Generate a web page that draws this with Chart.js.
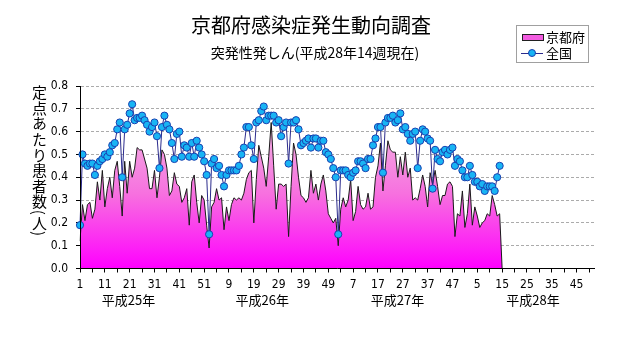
<!DOCTYPE html>
<html>
<head>
<meta charset="utf-8">
<script src="https://cdn.jsdelivr.net/npm/chart.js@4.4.1/dist/chart.umd.min.js"></script>
<style>
  html, body { margin: 0; padding: 0; background: #fff; }
  #wrap { position: relative; width: 631px; height: 347px; font-family: "Noto Sans CJK JP", sans-serif; color: #000; }
  #chart { position: absolute; left: 0; top: 0; }
  .title { position: absolute; left: 0; width: 622px; top: 14px; text-align: center; font-size: 20px; line-height: 22px; }
  .subtitle { position: absolute; left: 0; width: 630px; top: 44px; text-align: center; font-size: 14px; line-height: 16px; }
  .ylabel { position: absolute; left: 31px; top: 85px; writing-mode: vertical-rl; font-size: 15px; line-height: 16px; letter-spacing: 0.6px; }
  .legend { position: absolute; left: 516px; top: 25px; width: 71px; height: 36px; border: 1px solid #a0a0a0; font-size: 13px; }
  .legend .row { position: absolute; left: 4px; height: 16px; line-height: 16px; }
  .legend .box { position: absolute; left: 1px; top: 5px; width: 20px; height: 5px; border: 1px solid #202020; background: #f25ce0; }
  .legend .ln { position: absolute; left: 0; top: 8px; width: 22px; height: 1px; background: #2b2b8c; }
  .legend .dot { position: absolute; left: 7px; top: 4px; width: 6px; height: 6px; border-radius: 50%; border: 1px solid #1840b0; background: #18b4f4; }
  .legend .txt { position: absolute; left: 25px; top: 0; white-space: nowrap; }
</style>
</head>
<body>
<div id="wrap">
  <canvas id="chart" width="631" height="347"></canvas>
  <div class="title">京都府感染症発生動向調査</div>
  <div class="subtitle">突発性発しん(平成28年14週現在)</div>
  <div class="ylabel">定点あたり患者数(人)</div>
  <div class="legend">
    <div class="row" style="top:3px"><span class="box"></span><span class="txt">京都府</span></div>
    <div class="row" style="top:19px"><span class="ln"></span><span class="dot"></span><span class="txt">全国</span></div>
  </div>
</div>
<script>
// week categories: 4 years x 52 weeks (H25 - H28)
const weeksPerYear = 52;
const yearNames = ['平成25年', '平成26年', '平成27年', '平成28年'];
const weekLabels = [];
for (let y = 0; y < yearNames.length; y++) {
    for (let w = 1; w <= weeksPerYear; w++) weekLabels.push(String(w));
}

// Kyoto prefecture (per sentinel), H25w1 .. H28w14, blank week 15 plotted as 0
const kyoto = [
    0.12, 0.28, 0.21, 0.28, 0.29, 0.22, 0.26, 0.38, 0.30, 0.43,
    0.27, 0.35, 0.40, 0.31, 0.43, 0.47, 0.36, 0.23, 0.47, 0.33,
    0.47, 0.40, 0.44, 0.53, 0.52, 0.52, 0.48, 0.44, 0.35, 0.35,
    0.43, 0.31, 0.40, 0.52, 0.50, 0.44, 0.32, 0.34, 0.42, 0.37,
    0.36, 0.29, 0.31, 0.35, 0.19, 0.38, 0.41, 0.29, 0.20, 0.32,
    0.30, 0.19, 0.09, 0.27, 0.29, 0.35, 0.30, 0.31, 0.17, 0.27,
    0.21, 0.28, 0.31, 0.30, 0.31, 0.30, 0.33, 0.39, 0.42, 0.43,
    0.20, 0.39, 0.54, 0.49, 0.44, 0.36, 0.49, 0.64, 0.45, 0.26,
    0.37, 0.37, 0.36, 0.37, 0.14, 0.36, 0.55, 0.50, 0.40, 0.32,
    0.31, 0.29, 0.31, 0.43, 0.33, 0.37, 0.30, 0.37, 0.41, 0.34,
    0.24, 0.22, 0.20, 0.22, 0.10, 0.26, 0.31, 0.27, 0.30, 0.39,
    0.21, 0.25, 0.36, 0.28, 0.26, 0.27, 0.33, 0.26, 0.27, 0.40,
    0.45, 0.55, 0.34, 0.45, 0.56, 0.52, 0.51, 0.51, 0.40, 0.49,
    0.41, 0.51, 0.40, 0.44, 0.30, 0.31, 0.30, 0.35, 0.41, 0.36,
    0.27, 0.42, 0.37, 0.43, 0.36, 0.28, 0.32, 0.32, 0.37, 0.38,
    0.36, 0.14, 0.24, 0.23, 0.34, 0.18, 0.24, 0.37, 0.19, 0.27,
    0.23, 0.18, 0.20, 0.21, 0.24, 0.23, 0.32, 0.28, 0.23, 0.24,
    0
];

// whole country
const national = [
    0.19, 0.50, 0.46, 0.45, 0.46, 0.46, 0.41, 0.45, 0.47, 0.48,
    0.50, 0.49, 0.51, 0.54, 0.55, 0.61, 0.64, 0.40, 0.61, 0.63,
    0.68, 0.72, 0.65, 0.66, 0.66, 0.67, 0.65, 0.63, 0.60, 0.62,
    0.64, 0.58, 0.44, 0.62, 0.67, 0.63, 0.61, 0.55, 0.48, 0.59,
    0.60, 0.49, 0.54, 0.53, 0.49, 0.55, 0.49, 0.56, 0.53, 0.50,
    0.47, 0.41, 0.15, 0.46, 0.48, 0.44, 0.45, 0.41, 0.36, 0.41,
    0.43, 0.43, 0.43, 0.43, 0.45, 0.50, 0.53, 0.62, 0.62, 0.54,
    0.48, 0.64, 0.65, 0.69, 0.71, 0.65, 0.67, 0.67, 0.67, 0.64,
    0.65, 0.58, 0.62, 0.64, 0.46, 0.64, 0.64, 0.65, 0.61, 0.54,
    0.55, 0.56, 0.57, 0.53, 0.57, 0.57, 0.53, 0.56, 0.56, 0.51,
    0.50, 0.48, 0.44, 0.40, 0.15, 0.43, 0.43, 0.43, 0.41, 0.40,
    0.42, 0.43, 0.47, 0.47, 0.46, 0.44, 0.48, 0.48, 0.54, 0.57,
    0.62, 0.62, 0.42, 0.64, 0.66, 0.66, 0.67, 0.64, 0.65, 0.68,
    0.61, 0.62, 0.59, 0.56, 0.59, 0.60, 0.44, 0.56, 0.61, 0.60,
    0.57, 0.56, 0.35, 0.52, 0.48, 0.47, 0.51, 0.52, 0.50, 0.52,
    0.53, 0.45, 0.48, 0.47, 0.43, 0.40, 0.40, 0.45, 0.41, 0.38,
    0.38, 0.36, 0.37, 0.34, 0.36, 0.36, 0.36, 0.34, 0.40, 0.45
];

const axisFont = { family: '"Liberation Sans Narrow", "DejaVu Sans Condensed", sans-serif', size: 12 };

// era-year captions under the week numbers
const yearCaptions = {
    id: 'yearCaptions',
    afterDraw(chart) {
        const x = chart.scales.x;
        const offsets = [19.5, 21.4, 23.9, 26.4];
        const ctx = chart.ctx;
        ctx.save();
        ctx.font = '13px "Noto Sans CJK JP"';
        ctx.fillStyle = '#000';
        ctx.textAlign = 'center';
        ctx.textBaseline = 'middle';
        yearNames.forEach((t, i) => {
            ctx.fillText(t, x.getPixelForValue(i * weeksPerYear + offsets[i]), 300);
        });
        ctx.restore();
    }
};

function areaGradient(context) {
    const chart = context.chart;
    const area = chart.chartArea;
    if (!area) return '#ff00ff';
    const y = chart.scales.y;
    const g = chart.ctx.createLinearGradient(0, y.getPixelForValue(0.65), 0, area.bottom);
    g.addColorStop(0, '#f2b4e2');
    g.addColorStop(0.5, '#f770df');
    g.addColorStop(1, '#ff00ff');
    return g;
}

new Chart(document.getElementById('chart').getContext('2d'), {
    type: 'line',
    data: {
        labels: weekLabels,
        datasets: [{
            label: '全国',
            data: national,
            order: 0,
            borderColor: '#2b2b8c',
            borderWidth: 1,
            pointRadius: 3.6,
            pointBorderWidth: 1,
            pointBorderColor: '#1840b0',
            pointBackgroundColor: '#18b4f4',
            tension: 0,
            fill: false
        }, {
            label: '京都府',
            data: kyoto,
            order: 1,
            borderColor: '#1a1a1a',
            borderWidth: 1,
            pointRadius: 0,
            tension: 0,
            fill: 'origin',
            backgroundColor: areaGradient
        }]
    },
    options: {
        responsive: false,
        animation: false,
        layout: { padding: { top: 86, right: 37, left: 0, bottom: 0 } },
        plugins: {
            legend: { display: false },
            title: { display: false },
            tooltip: { enabled: false }
        },
        scales: {
            x: {
                afterFit: function(scale) { scale.height = 78.5; },
                afterBuildTicks: function(scale) {
                    scale.ticks = scale.ticks.filter(t => t.value % 5 === 0);
                },
                grid: { drawOnChartArea: false, tickLength: 4, color: '#000' },
                border: { color: '#000', width: 1, z: 1 },
                ticks: {
                    autoSkip: false,
                    maxRotation: 0,
                    padding: 5,
                    color: '#000',
                    font: axisFont,
                    callback: function(value) {
                        return value % 10 === 0 ? weekLabels[value] : '';
                    }
                }
            },
            y: {
                min: 0,
                max: 0.8,
                afterFit: function(scale) { scale.width = 80; },
                grid: { color: '#ababab', tickLength: 4, tickColor: '#000' },
                border: { color: '#000', width: 1, dash: [3, 2], z: 1 },
                ticks: {
                    stepSize: 0.1,
                    padding: 8,
                    color: '#000',
                    font: axisFont,
                    callback: v => v.toFixed(1)
                }
            }
        }
    },
    plugins: [yearCaptions]
});
</script>
</body>
</html>
